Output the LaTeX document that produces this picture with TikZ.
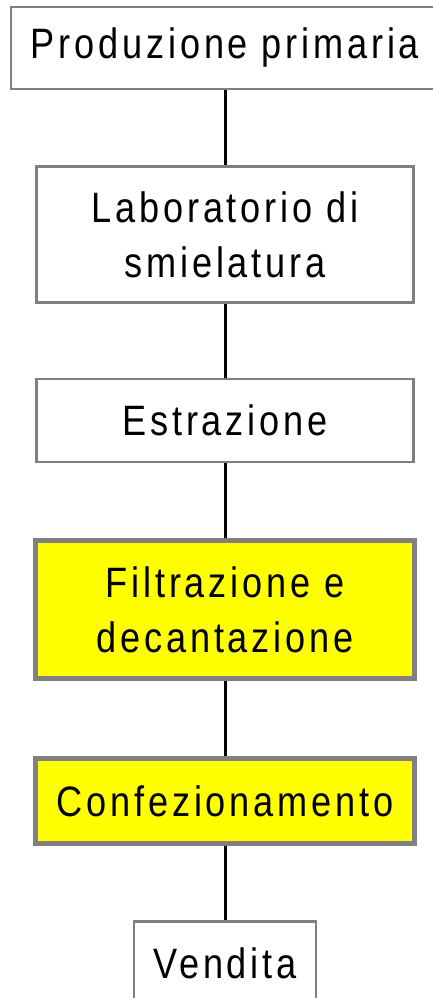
\documentclass[tikz,border=0pt]{standalone}
\usepackage{fontspec}
\setmainfont[FakeStretch=0.85,LetterSpace=9]{Liberation Sans}
\usetikzlibrary{positioning}

\definecolor{boxgray}{HTML}{808080}
\definecolor{boxyellow}{HTML}{FFFF00}

\tikzset{
  phase/.style={draw=boxgray, line width=2.5pt, fill=white, inner sep=0pt,
                align=center, minimum width=377pt, minimum height=83pt},
  keyphase/.style={phase, fill=boxyellow, line width=5pt,
                   minimum width=379pt, minimum height=85pt},
  link/.style={draw=black, line width=3pt}
}

\begin{document}
\begin{tikzpicture}[node distance=75pt, font=\fontsize{42.5}{55}\selectfont]
  \useasboundingbox (0,0) rectangle (433pt,-998pt);

  \node[phase, minimum width=428pt, minimum height=82pt] (prod) at (225pt,-48pt) {Produzione primaria};
  \node[phase, minimum height=136pt]    (lab)   [below=of prod]     {Laboratorio di\\smielatura};
  \node[phase]                          (estr)  [below=74pt of lab] {Estrazione};
  \node[keyphase, minimum height=138pt] (filtr) [below=of estr]     {Filtrazione e\\decantazione};
  \node[keyphase]                       (conf)  [below=of filtr]    {Confezionamento};
  \node[phase, minimum width=182pt]     (vend)  [below=74pt of conf] {Vendita};

  % filiera del miele
  \path[link] (prod) -- (lab)
              (lab) -- (estr)
              (estr) -- (filtr)
              (filtr) -- (conf)
              (conf) -- (vend);
\end{tikzpicture}
\end{document}
